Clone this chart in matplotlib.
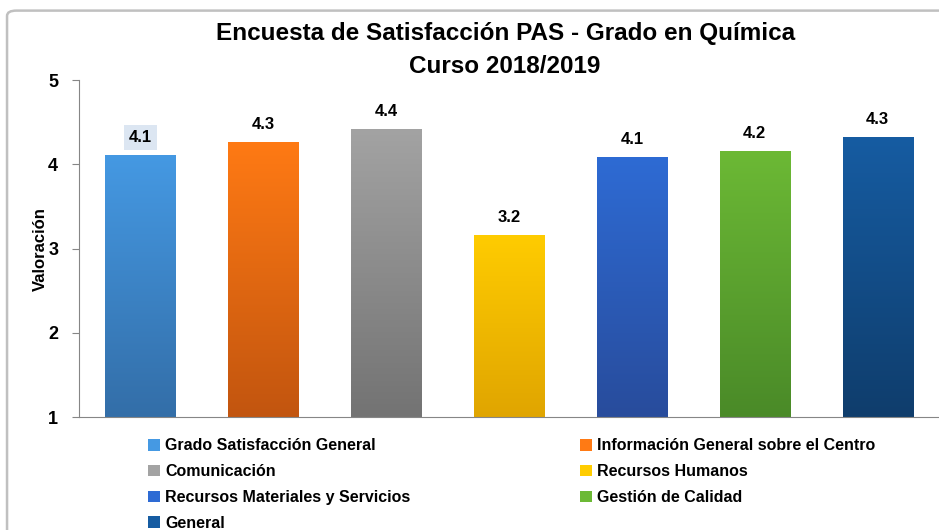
import matplotlib
matplotlib.use("Agg")
import matplotlib.pyplot as plt
from matplotlib.colors import LinearSegmentedColormap
from matplotlib.patches import Rectangle, FancyBboxPatch
import numpy as np

categories = [
    "Grado Satisfacción General",
    "Información General sobre el Centro",
    "Comunicación",
    "Recursos Humanos",
    "Recursos Materiales y Servicios",
    "Gestión de Calidad",
    "General",
]
values = [4.11, 4.27, 4.42, 3.16, 4.09, 4.16, 4.33]
labels = ["4.1", "4.3", "4.4", "3.2", "4.1", "4.2", "4.3"]
# (top colour, bottom colour) for the gradient fill of each bar
bar_colors = [
    ("#4599e3", "#336ea8"),
    ("#ff7a14", "#c2550f"),
    ("#a3a3a3", "#737373"),
    ("#ffcc00", "#e0a500"),
    ("#2e6bd4", "#284c9c"),
    ("#6cb935", "#4a8a28"),
    ("#165ca2", "#0f3d6c"),
]
yticks = [1, 2, 3, 4, 5]

plt.rcParams["font.family"] = ["Liberation Sans", "DejaVu Sans"]
plt.rcParams["font.weight"] = "bold"

fig = plt.figure(figsize=(9.39, 5.30), dpi=100)
ax = fig.add_axes([0.0841, 0.2126, 0.9159, 0.6364])

x = np.arange(len(categories))
width = 0.57
ax.set_xlim(-0.5, len(categories) - 0.5)
ax.set_ylim(1, 5)

bars = ax.bar(x, np.array(values) - 1, bottom=1, width=width, color="none", zorder=2)
for bar, (top, bottom) in zip(bars, bar_colors):
    cmap = LinearSegmentedColormap.from_list("g", [bottom, top])
    x0, y0 = bar.get_x(), bar.get_y()
    grad = np.linspace(0, 1, 256).reshape(-1, 1)
    im = ax.imshow(grad, cmap=cmap, origin="lower", aspect="auto",
                   extent=(x0, x0 + bar.get_width(), y0, y0 + bar.get_height()),
                   zorder=2)
    im.set_clip_path(bar)

for i, (v, lab) in enumerate(zip(values, labels)):
    kw = {}
    if i == 0:
        kw["bbox"] = dict(boxstyle="square,pad=0.3", fc="#dce6f2", ec="none")
    ax.annotate(lab, (x[i], v), xytext=(0, 7), textcoords="offset points",
                ha="center", va="bottom", fontsize=12, fontweight="bold", **kw)

ax.set_yticks(yticks)
ax.set_yticklabels([str(t) for t in yticks], fontsize=13, fontweight="bold")
ax.set_xticks([])
ax.tick_params(axis="y", length=5, color="#868686", pad=10)
for s in ["top", "right"]:
    ax.spines[s].set_visible(False)
for s in ["left", "bottom"]:
    ax.spines[s].set_color("#868686")
ax.set_ylabel("Valoración", fontsize=12, fontweight="bold", labelpad=0)

fig.text(0.538, 0.905, "Encuesta de Satisfacción PAS - Grado en Química\nCurso 2018/2019",
         ha="center", va="center", fontsize=17.5, fontweight="bold", linespacing=1.55)

handles = []
for top, bottom in bar_colors:
    handles.append(Rectangle((0, 0), 1, 1, fc=top, ec="none"))
col1 = [0, 2, 4, 6]
col2 = [1, 3, 5]
for idx, xpos in [(col1, 0.158), (col2, 0.618)]:
    leg = fig.legend([handles[i] for i in idx], [categories[i] for i in idx],
                     loc="upper left", bbox_to_anchor=(xpos, 0.173), frameon=False,
                     fontsize=11.5, handlelength=0.75, handleheight=0.75,
                     handletextpad=0.3, labelspacing=0.68, borderaxespad=0,
                     borderpad=0)
    for t in leg.get_texts():
        t.set_fontweight("bold")

border = FancyBboxPatch((0.0075, -0.05), 1.05, 1.03, transform=fig.transFigure,
                        boxstyle="round,pad=0,rounding_size=0.01",
                        fc="none", ec="#c0c0c0", lw=1.8)
fig.add_artist(border)

fig.savefig("out.png", dpi=100)
